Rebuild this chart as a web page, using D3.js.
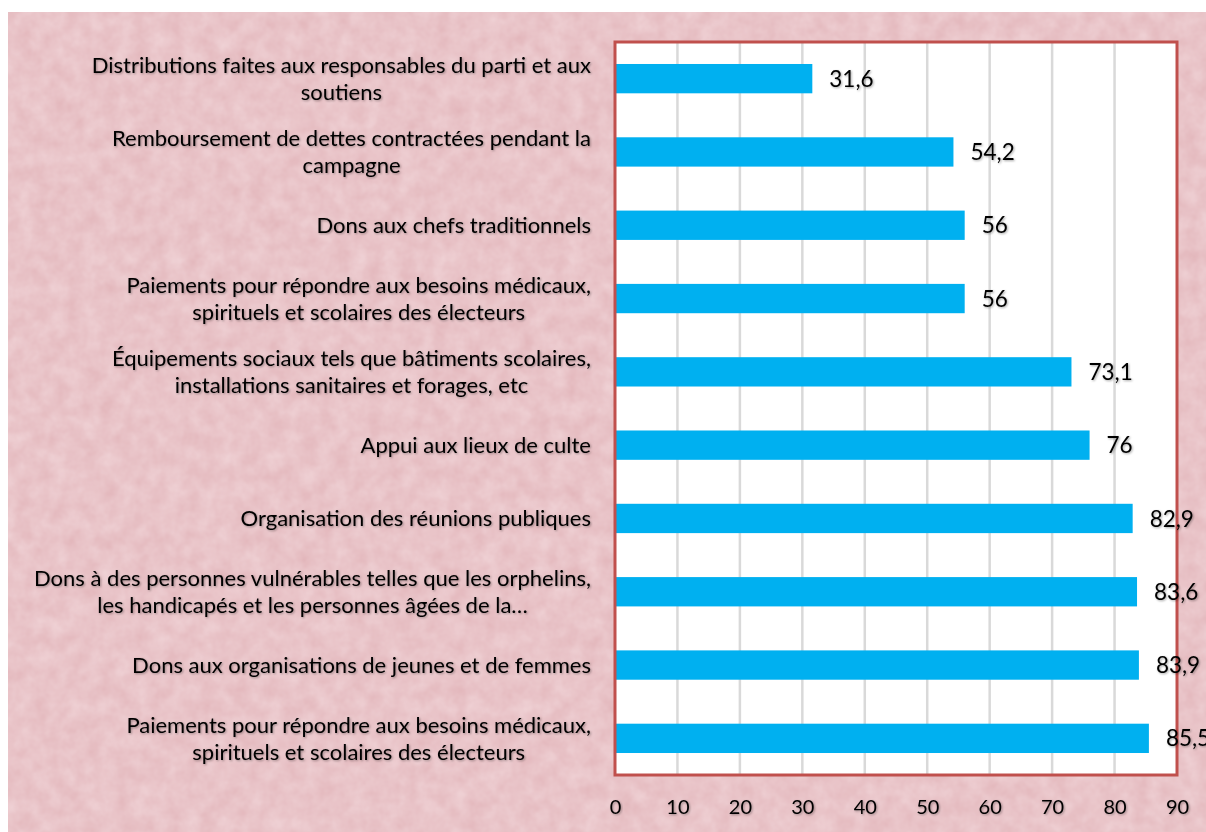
<!DOCTYPE html>
<html>
<head>
<meta charset="utf-8">
<script src="https://cdn.jsdelivr.net/npm/d3@7"></script>
<style>
  body { margin: 0; background: #fff; }
  text { font-family: Lato, "Open Sans", sans-serif; }
</style>
</head>
<body>
<div id="chart-area"></div>
<script>
// categories, top to bottom
const categories = [
    ['Distributions faites aux responsables du parti et aux', 'soutiens'],
    ['Remboursement de dettes contractées pendant la', 'campagne'],
    ['Dons aux chefs traditionnels'],
    ['Paiements pour répondre aux besoins médicaux,', 'spirituels et scolaires des électeurs'],
    ['Équipements sociaux tels que bâtiments scolaires,', 'installations sanitaires et forages, etc'],
    ['Appui aux lieux de culte'],
    ['Organisation des réunions publiques'],
    ['Dons à des personnes vulnérables telles que les orphelins,', 'les handicapés et les personnes âgées de la…'],
    ['Dons aux organisations de jeunes et de femmes'],
    ['Paiements pour répondre aux besoins médicaux,', 'spirituels et scolaires des électeurs']
]
const values = [31.6, 54.2, 56, 56, 73.1, 76, 82.9, 83.6, 83.9, 85.5]
const ticks = [0, 10, 20, 30, 40, 50, 60, 70, 80, 90]

const W = 1206
const H = 832
const margin = { top: 42, left: 615, right: 29, bottom: 57 }
const width = W - margin.left - margin.right
const height = H - margin.top - margin.bottom

const svg = d3.select('#chart-area')
              .append('svg')
              .attr('width', W)
              .attr('height', H)

// textured pink background
const defs = svg.append('defs')
const filt = defs.append('filter').attr('id', 'grain')
filt.append('feTurbulence')
    .attr('type', 'fractalNoise')
    .attr('baseFrequency', 0.06)
    .attr('numOctaves', 3)
    .attr('seed', 4)
filt.append('feColorMatrix')
    .attr('values', '0 0 0 0 0.95  0 0 0 0 0.80  0 0 0 0 0.82  0 0 0 0.6 0')
filt.append('feComposite').attr('in2', 'SourceGraphic').attr('operator', 'in')

svg.append('rect')
   .attr('x', 8).attr('y', 12)
   .attr('width', W - 8).attr('height', H - 12)
   .attr('fill', '#e2b5ba')
svg.append('rect')
   .attr('x', 8).attr('y', 12)
   .attr('width', W - 8).attr('height', H - 12)
   .attr('fill', '#e2b5ba')
   .attr('filter', 'url(#grain)')

const shadow = defs.append('filter').attr('id', 'shadow')
shadow.append('feDropShadow')
      .attr('dx', 1).attr('dy', 1)
      .attr('stdDeviation', 0.8)
      .attr('flood-color', '#000')
      .attr('flood-opacity', 0.35)

const g = svg.append('g')
             .attr('transform', 'translate(' + margin.left + ',' + margin.top + ')')

const x = d3.scaleLinear()
            .domain([0, 90])
            .range([0, width])

const y = d3.scaleBand()
            .domain(d3.range(categories.length))
            .range([0, height])
            .paddingInner(0.6)
            .paddingOuter(0.3)

// plot area
g.append('rect')
 .attr('width', width)
 .attr('height', height)
 .attr('fill', '#fff')

// gridlines
g.selectAll('.grid')
 .data(ticks.slice(1, -1))
 .enter()
 .append('line')
 .attr('class', 'grid')
 .attr('x1', d => x(d)).attr('x2', d => x(d))
 .attr('y1', 0).attr('y2', height)
 .attr('stroke', '#d9d9d9')
 .attr('stroke-width', 2.5)

// bars
g.selectAll('.bar')
 .data(values)
 .enter()
 .append('rect')
 .attr('class', 'bar')
 .attr('x', 0)
 .attr('y', (d, i) => y(i))
 .attr('width', d => x(d))
 .attr('height', y.bandwidth())
 .attr('fill', '#00b0f0')

// border
g.append('rect')
 .attr('width', width)
 .attr('height', height)
 .attr('fill', 'none')
 .attr('stroke', '#c0504d')
 .attr('stroke-width', 3)

// value labels
g.selectAll('.val')
 .data(values)
 .enter()
 .append('text')
 .attr('class', 'val')
 .attr('x', d => x(d) + 17)
 .attr('y', (d, i) => y(i) + y.bandwidth() / 2)
 .attr('dy', '0.36em')
 .attr('font-size', '22.5px')
 .attr('fill', '#000')
 .attr('filter', 'url(#shadow)')
 .text(d => String(d).replace('.', ','))

// x axis
const xAxisCall = d3.axisBottom(x).tickValues(ticks).tickSize(0).tickPadding(25)
const xAxis = g.append('g')
               .attr('transform', 'translate(0, ' + height + ')')
               .call(xAxisCall)
xAxis.select('.domain').remove()
xAxis.selectAll('text')
     .attr('font-size', '20px')
     .attr('font-family', 'Lato, "Open Sans", sans-serif')
     .attr('fill', '#000')
     .attr('filter', 'url(#shadow)')

// category labels
const labels = g.selectAll('.cat')
                .data(categories)
                .enter()
                .append('text')
                .attr('class', 'cat')
                .attr('text-anchor', 'middle')
                .attr('font-size', '22px')
                .attr('fill', '#000')
                .attr('filter', 'url(#shadow)')

labels.each(function (lines, i) {
    const t = d3.select(this)
    const cy = y(i) + y.bandwidth() / 2
    const lh = 27
    const start = cy - (lines.length - 1) * lh / 2
    lines.forEach((line, j) => {
        t.append('tspan')
         .attr('y', start + j * lh)
         .attr('dy', '0.35em')
         .text(line)
    })
})

// right-align each block, lines centred under the widest
labels.each(function () {
    const t = d3.select(this)
    const w = d3.max(t.selectAll('tspan').nodes(), n => n.getComputedTextLength())
    t.selectAll('tspan').attr('x', -24 - w / 2)
})
</script>
</body>
</html>
